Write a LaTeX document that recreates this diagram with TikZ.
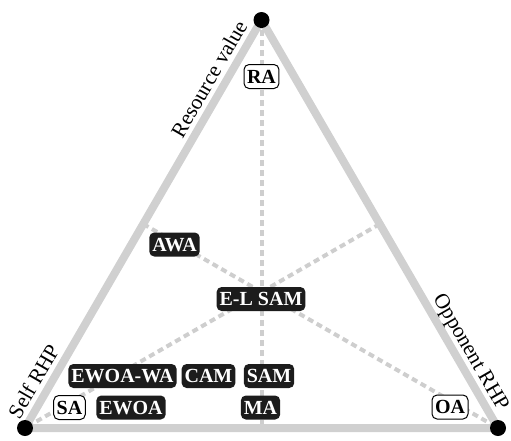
\documentclass[tikz,border=0pt]{standalone}
\usepackage{fontspec}
\setmainfont{Liberation Serif}
\usetikzlibrary{calc}
\definecolor{sidegray}{RGB}{208,208,208}
\definecolor{dashgray}{RGB}{206,206,206}
\definecolor{tagblack}{RGB}{28,28,28}
\tikzset{
  side/.style={draw=sidegray,line width=6pt},
  median/.style={draw=dashgray,line width=3pt,dash pattern=on 4.5pt off 3pt},
  tagdark/.style={fill=tagblack,text=white,rounded corners=3.75pt,font=\bfseries\fontsize{15}{15}\selectfont,inner xsep=2.25pt,inner ysep=4pt,text height=10pt,text depth=0pt},
  taglight/.style={tagdark,fill=white,text=black,draw=black,line width=0.75pt},
  sidelabel/.style={anchor=south,font=\fontsize{16}{16}\selectfont,inner sep=6.25pt,text depth=0pt}
}
\begin{document}
\begin{tikzpicture}[x=0.75pt,y=0.75pt,yscale=-1,xscale=1]
\useasboundingbox (0,0) rectangle (511,440);
\coordinate (vtop) at (261.5,20);
\coordinate (vleft) at (25,428);
\coordinate (vright) at (498,428);
\coordinate (mbase) at ($(vleft)!0.5!(vright)$);
\coordinate (mleft) at ($(vleft)!0.5!(vtop)$);
\coordinate (mright) at ($(vright)!0.5!(vtop)$);
\draw[median] (vtop) -- (mbase);
\draw[median] (mleft) -- (vright);
\draw[median] (mright) -- (vleft);
\draw[side] (vleft) -- (vtop) -- (vright) -- cycle;
\fill (vtop) circle (6pt);
\fill (vleft) circle (6pt);
\fill (vright) circle (6pt);
\node[sidelabel,rotate=60] (self) at ($(vleft)!0.095!(vtop)$) {Self RHP};
\node[sidelabel,rotate=60] (value) at ($(vleft)!0.836!(vtop)$) {Resource value};
\node[sidelabel,rotate=-60] (opp) at ($(vtop)!0.832!(vright)$) {Opponent RHP};
\node[taglight] (ra) at (261.5,76.5) {RA};
\node[tagdark] (awa) at (174.5,244.5) {AWA};
\node[tagdark] (elsam) at (261,299) {E-L SAM};
\node[tagdark] (ewoawa) at (122.5,376) {EWOA-WA};
\node[tagdark] (cam) at (208.5,376) {CAM};
\node[tagdark] (sam) at (269,376) {SAM};
\node[taglight] (sa) at (69.5,407.5) {SA};
\node[tagdark] (ewoa) at (131,407.5) {EWOA};
\node[tagdark] (ma) at (260.5,407.5) {MA};
\node[taglight] (oa) at (450,407) {OA};
\end{tikzpicture}
\end{document}
